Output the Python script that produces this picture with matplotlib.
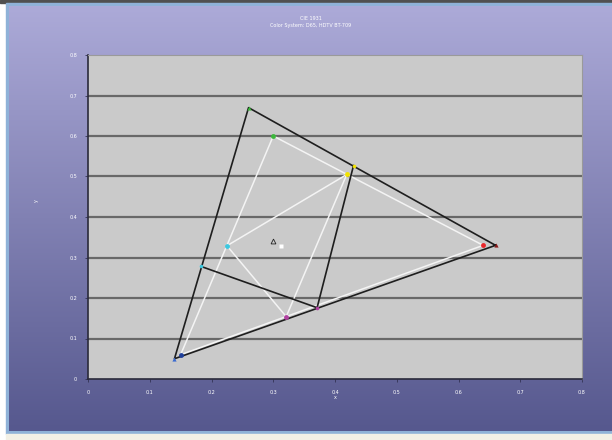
import numpy as np
import matplotlib
matplotlib.use("Agg")
import matplotlib.pyplot as plt
from matplotlib.patches import Rectangle

# ---- data (CIE 1931 xy) ----
ref_names = ["R", "G", "B"]
ref_x = [0.64, 0.30, 0.15]
ref_y = [0.33, 0.60, 0.06]
ref_sec_names = ["Y", "C", "M"]
ref_sec_x = [0.419, 0.225, 0.321]
ref_sec_y = [0.505, 0.329, 0.154]

meas_x = [0.66, 0.26, 0.14]
meas_y = [0.33, 0.67, 0.05]
meas_sec_x = [0.43, 0.183, 0.371]
meas_sec_y = [0.527, 0.278, 0.176]

ref_white = (0.3127, 0.329)
meas_white = (0.30, 0.34)

ticks = [0, 0.1, 0.2, 0.3, 0.4, 0.5, 0.6, 0.7, 0.8]
tick_labels = ["0", "0.1", "0.2", "0.3", "0.4", "0.5", "0.6", "0.7", "0.8"]

W, H = 612, 440
fig = plt.figure(figsize=(W / 100, H / 100), dpi=100)
fig.patch.set_facecolor("white")

# background
bg = fig.add_axes([0, 0, 1, 1])
bg.set_xlim(0, W)
bg.set_ylim(H, 0)
bg.axis("off")
top = np.array([172, 170, 216]) / 255
bot = np.array([86, 88, 142]) / 255
t = np.linspace(0, 1, 256)[:, None]
grad = (top[None, :] * (1 - t) + bot[None, :] * t)[:, None, :]
bg.add_patch(Rectangle((0, 0), W, 3, color="#505050", zorder=0))
bg.add_patch(Rectangle((6, 3), W, 431, color="#8fb2d8", zorder=1))
bg.imshow(grad, extent=[9, W + 2, 431, 6], aspect="auto", zorder=2, interpolation="bilinear")
bg.add_patch(Rectangle((6, 434), W, 6, color="#f2f0e6", zorder=1))

ax = fig.add_axes([88 / W, 1 - 379 / H, (582 - 88) / W, (379 - 55) / H])
ax.set_facecolor("#cacaca")
ax.set_xlim(0, 0.8)
ax.set_ylim(0, 0.8)
ax.set_xticks(ticks)
ax.set_xticklabels(tick_labels)
ax.set_yticks(ticks)
ax.set_yticklabels(tick_labels)
ax.tick_params(colors="white", labelsize=3.5, length=2, width=0.6, pad=6)
ax.tick_params(axis="both", color="#333355")
for yv in ticks[1:-1]:
    ax.axhline(yv, color="#686868", lw=1.6, zorder=1)
for s in ["left", "bottom"]:
    ax.spines[s].set_color("#2a2a3a")
    ax.spines[s].set_linewidth(1.2)
for s in ["top", "right"]:
    ax.spines[s].set_color("#9a9a9a")
    ax.spines[s].set_linewidth(0.8)
ax.set_xlabel("x", color="white", fontsize=3.5, labelpad=0)
ax.set_ylabel("y", color="white", fontsize=3.5, labelpad=24)
ax.yaxis.set_label_coords(-0.1, 0.55)

# reference (white) triangle and secondaries triangle
ax.plot(ref_x + ref_x[:1], ref_y + ref_y[:1], color="#f4f4f4", lw=1.1, zorder=3)
ax.plot(ref_sec_x + ref_sec_x[:1], ref_sec_y + ref_sec_y[:1], color="#f4f4f4", lw=1.1, zorder=3)

# measured (black) triangle and secondaries
ax.plot(meas_x + meas_x[:1], meas_y + meas_y[:1], color="#1e1e1e", lw=1.2, zorder=4)
ax.plot([meas_sec_x[1], meas_sec_x[2], meas_sec_x[0]],
        [meas_sec_y[1], meas_sec_y[2], meas_sec_y[0]], color="#1e1e1e", lw=1.2, zorder=4)

ref_cols = ["#e8262a", "#3cb83c", "#1f3f9a"]
ref_sec_cols = ["#f2e200", "#3cc8e0", "#b040a0"]
meas_cols = ["#8a1a1a", "#3cb83c", "#3a6ad0"]
meas_sec_cols = ["#f2e200", "#3cc8e0", "#b040a0"]
for xv, yv, c in zip(ref_x, ref_y, ref_cols):
    ax.plot(xv, yv, "o", color=c, ms=3.5, mec="none", zorder=6)
for xv, yv, c in zip(ref_sec_x, ref_sec_y, ref_sec_cols):
    ax.plot(xv, yv, "o", color=c, ms=3.5, mec="none", zorder=6)
for xv, yv, c in zip(meas_x, meas_y, meas_cols):
    ax.plot(xv, yv, "^", color=c, ms=3.0, mec="none", zorder=6)
for xv, yv, c in zip(meas_sec_x, meas_sec_y, meas_sec_cols):
    ax.plot(xv, yv, "o", color=c, ms=2.6, mec="none", zorder=6)

ax.plot(*ref_white, "s", color="white", ms=3.5, mec="none", zorder=6)
ax.plot(*meas_white, "^", mfc="none", mec="#222222", ms=3.5, mew=0.6, zorder=6)

fig.text(311 / W, 1 - 19 / H, "CIE 1931", color="white", fontsize=3.5, ha="center", va="center")
fig.text(311 / W, 1 - 26 / H, "Color System: D65, HDTV BT-709", color="white", fontsize=3.5,
         ha="center", va="center")

fig.savefig("out.png", dpi=100, facecolor=fig.get_facecolor())
